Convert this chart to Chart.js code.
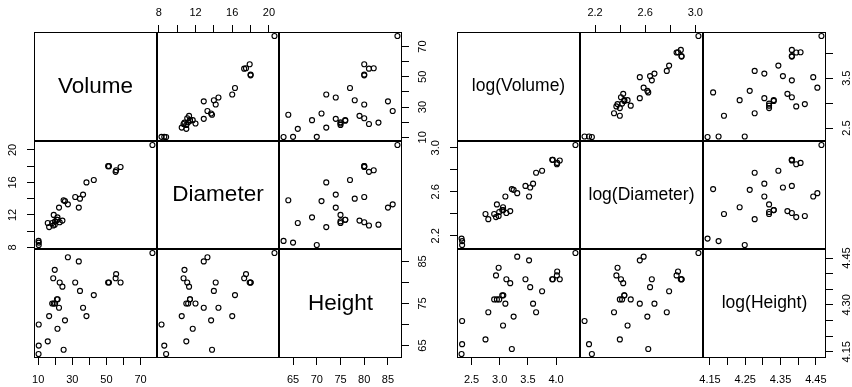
<!DOCTYPE html>
<html>
<head>
<meta charset="utf-8">
<title>Scatterplot matrices of tree measurements</title>
<script src="https://cdn.jsdelivr.net/npm/chart.js@4/dist/chart.umd.min.js"></script>
<style>
  html, body { margin: 0; padding: 0; background: #ffffff; }
  #page { position: relative; width: 852px; height: 387px; overflow: hidden; background: #ffffff; }
  #page canvas { position: absolute; }
</style>
</head>
<body>
<div id="page"></div>
<script>
// Tree measurements (31 black cherry trees)
const diameter = [8.3, 8.6, 8.8, 10.5, 10.7, 10.8, 11.0, 11.0, 11.1, 11.2, 11.3, 11.4, 11.4, 11.7, 12.0, 12.9,
                  12.9, 13.3, 13.7, 13.8, 14.0, 14.2, 14.5, 16.0, 16.3, 17.3, 17.5, 17.9, 18.0, 18.0, 20.6];
const height = [70, 65, 63, 72, 81, 83, 66, 75, 80, 75, 79, 76, 76, 69, 75, 74,
                85, 86, 71, 64, 78, 80, 74, 72, 77, 81, 82, 80, 80, 80, 87];
const volume = [10.3, 10.3, 10.2, 16.4, 18.8, 19.7, 15.6, 18.2, 22.6, 19.9, 24.2, 21.0, 21.4, 21.3, 19.1, 22.2,
                33.8, 27.4, 25.7, 24.9, 34.5, 31.7, 36.3, 38.3, 42.6, 55.4, 55.7, 58.3, 51.5, 51.0, 77.0];

// Axis ticks and their labels ('' = tick mark without a label)
const volumeTicks = [10, 20, 30, 40, 50, 60, 70];
const volumeTickLabels = ['10', '', '30', '', '50', '', '70'];
const diameterTicks = [8, 10, 12, 14, 16, 18, 20];
const diameterTickLabels = ['8', '', '12', '', '16', '', '20'];
const heightTicks = [65, 70, 75, 80, 85];
const heightTickLabelsBottom = ['65', '70', '75', '80', '85'];
const heightTickLabelsSide = ['65', '', '75', '', '85'];

const logVolumeTicks = [2.5, 3.0, 3.5, 4.0];
const logVolumeTickLabelsBottom = ['2.5', '3.0', '3.5', '4.0'];
const logVolumeTickLabelsSide = ['2.5', '', '3.5', ''];
const logDiameterTicks = [2.2, 2.4, 2.6, 2.8, 3.0];
const logDiameterTickLabels = ['2.2', '', '2.6', '', '3.0'];
const logHeightTicks = [4.15, 4.20, 4.25, 4.30, 4.35, 4.40, 4.45];
const logHeightTickLabelsBottom = ['4.15', '', '4.25', '', '4.35', '', '4.45'];
const logHeightTickLabelsSide = ['4.15', '', '', '4.30', '', '', '4.45'];

const varNames = ['Volume', 'Diameter', 'Height'];
const logVarNames = ['log(Volume)', 'log(Diameter)', 'log(Height)'];

// ---- layout ----
const FONT = '"Liberation Sans", Arial, Helvetica, sans-serif';
const TICK_FONT_SIZE = 11;
const M = 34;            // room reserved around each panel for axes
const TICK_LEN = 7;
const Y_LABEL_DIST = 21; // centre of rotated labels from the panel edge
const rowEdges = [32, 141, 249, 358];
const leftColEdges = [34, 157, 279, 402];
const rightColEdges = [457, 580, 703, 826];

const meas = document.createElement('canvas').getContext('2d');
meas.font = TICK_FONT_SIZE + 'px ' + FONT;
function widestLabel(labels) {
  return Math.max(...labels.map(l => meas.measureText(l).width));
}

// Axis range padded by 4% on each side
function limits(values) {
  const lo = Math.min(...values), hi = Math.max(...values);
  const r = hi - lo;
  return [lo - 0.04 * r, hi + 0.04 * r];
}

function makeScale(v, position, shown, labels) {
  const horizontal = position === 'top' || position === 'bottom';
  const [lo, hi] = limits(v.values);
  let pad;
  if (horizontal) pad = position === 'top' ? 5.4 : 8.4;
  else pad = Math.max(0, Y_LABEL_DIST - TICK_LEN - widestLabel(labels || ['']) / 2);
  return {
    type: 'linear',
    position: position,
    display: shown,
    min: lo,
    max: hi,
    afterBuildTicks: s => { s.ticks = v.ticks.map(t => ({ value: t })); },
    afterFit: s => {
      if (!shown) return;
      if (horizontal) s.height = M; else s.width = M;
    },
    grid: { display: true, drawOnChartArea: false, drawTicks: true, tickLength: TICK_LEN, color: '#000000', lineWidth: 1 },
    border: { display: false },
    ticks: {
      autoSkip: false,
      minRotation: horizontal ? 0 : 90,
      maxRotation: horizontal ? 0 : 90,
      crossAlign: horizontal ? 'near' : 'center',
      padding: pad,
      color: '#000000',
      font: { family: FONT, size: TICK_FONT_SIZE },
      callback: (value, idx) => (labels ? labels[idx] : '')
    }
  };
}

// Frame around the plotting region, plus the variable name on diagonal panels
const panelPlugin = {
  id: 'panelFrame',
  afterDraw(chart, args, opts) {
    const { ctx, chartArea: a } = chart;
    ctx.save();
    if (opts.label) {
      ctx.fillStyle = '#000000';
      ctx.font = opts.labelSize + 'px ' + FONT;
      ctx.textAlign = 'center';
      ctx.textBaseline = 'middle';
      ctx.fillText(opts.label, (a.left + a.right) / 2, (a.top + a.bottom) / 2);
    }
    ctx.strokeStyle = '#000000';
    ctx.lineWidth = 1;
    ctx.strokeRect(a.left + 0.5, a.top + 0.5, a.right - a.left - 1, a.bottom - a.top - 1);
    ctx.restore();
  }
};

function drawMatrix(vars, colEdges, labelSize) {
  const page = document.getElementById('page');
  const n = vars.length;
  for (let i = 0; i < n; i++) {
    for (let j = 0; j < n; j++) {
      const x0 = colEdges[j], x1 = colEdges[j + 1];
      const y0 = rowEdges[i], y1 = rowEdges[i + 1];
      const hasBottom = i === n - 1 && j % 2 === 0;
      const hasTop = i === 0 && j % 2 === 1;
      const hasLeft = j === 0 && i % 2 === 1;
      const hasRight = j === n - 1 && i % 2 === 0;
      const xv = vars[j], yv = vars[i];

      const canvas = document.createElement('canvas');
      const W = (x1 - x0) + 2 * M, H = (y1 - y0) + 2 * M;
      canvas.width = W; canvas.height = H;
      canvas.style.left = (x0 - M) + 'px';
      canvas.style.top = (y0 - M) + 'px';
      canvas.style.width = W + 'px';
      canvas.style.height = H + 'px';
      page.appendChild(canvas);

      const diag = i === j;
      const points = diag ? [] : xv.values.map((x, k) => ({ x: x, y: yv.values[k] }));

      new Chart(canvas, {
        type: 'scatter',
        data: {
          datasets: [{
            data: points,
            pointStyle: 'circle',
            pointRadius: 2.5,
            pointBorderWidth: 1.15,
            pointBorderColor: '#000000',
            pointBackgroundColor: 'rgba(0,0,0,0)',
            clip: false
          }]
        },
        options: {
          responsive: false,
          animation: false,
          devicePixelRatio: 1,
          events: [],
          layout: {
            padding: {
              top: hasTop ? 0 : M,
              bottom: hasBottom ? 0 : M,
              left: hasLeft ? 0 : M,
              right: hasRight ? 0 : M
            }
          },
          scales: {
            x: makeScale(xv, hasTop ? 'top' : 'bottom', hasTop || hasBottom, hasTop ? xv.topLabels : xv.bottomLabels),
            y: makeScale(yv, hasRight ? 'right' : 'left', hasLeft || hasRight, hasRight ? yv.rightLabels : yv.leftLabels)
          },
          plugins: {
            legend: { display: false },
            tooltip: { enabled: false },
            panelFrame: { label: diag ? xv.name : null, labelSize: labelSize }
          }
        },
        plugins: [panelPlugin]
      });
    }
  }
}

const rawVars = [
  { name: varNames[0], values: volume, ticks: volumeTicks,
    bottomLabels: volumeTickLabels, rightLabels: volumeTickLabels },
  { name: varNames[1], values: diameter, ticks: diameterTicks,
    topLabels: diameterTickLabels, leftLabels: diameterTickLabels },
  { name: varNames[2], values: height, ticks: heightTicks,
    bottomLabels: heightTickLabelsBottom, rightLabels: heightTickLabelsSide }
];

const logVars = [
  { name: logVarNames[0], values: volume.map(Math.log), ticks: logVolumeTicks,
    bottomLabels: logVolumeTickLabelsBottom, rightLabels: logVolumeTickLabelsSide },
  { name: logVarNames[1], values: diameter.map(Math.log), ticks: logDiameterTicks,
    topLabels: logDiameterTickLabels, leftLabels: logDiameterTickLabels },
  { name: logVarNames[2], values: height.map(Math.log), ticks: logHeightTicks,
    bottomLabels: logHeightTickLabelsBottom, rightLabels: logHeightTickLabelsSide }
];

drawMatrix(rawVars, leftColEdges, 22.5);
drawMatrix(logVars, rightColEdges, 17.5);
</script>
</body>
</html>
